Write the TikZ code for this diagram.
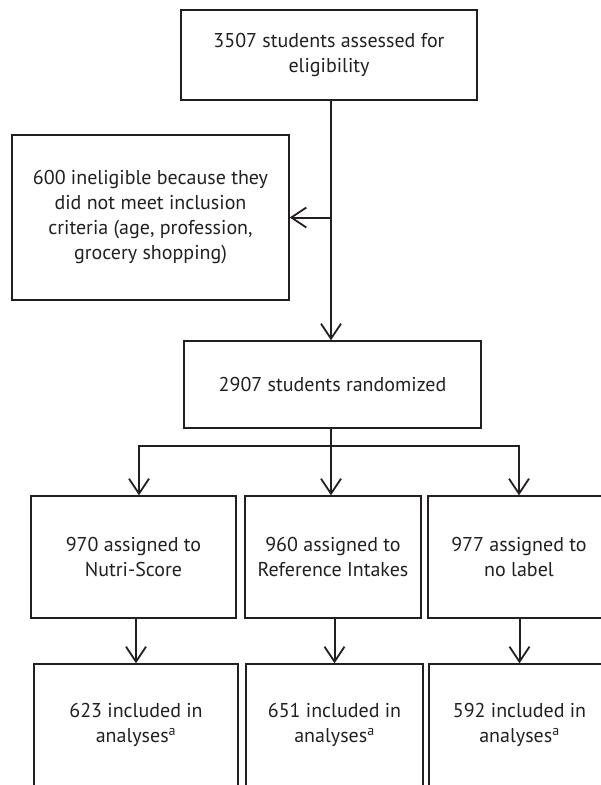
\documentclass[tikz,border=0pt]{standalone}
\usepackage{fontspec}
\setmainfont{PT Sans}
\usetikzlibrary{arrows.meta}
\definecolor{ink}{HTML}{231F20}
\tikzset{
  box/.style={draw=ink, line width=1.3pt, align=center, text=ink, inner sep=0pt,
    font=\fontsize{20}{25}\selectfont},
  arr/.style={draw=ink, line width=2pt, -{Straight Barb[length=15pt,width=20pt,line width=1.8pt]}},
  ln/.style={draw=ink, line width=2pt}
}
\begin{document}
\begin{tikzpicture}[x=1pt,y=-1pt]
\clip (0,0) rectangle (601,785);
\useasboundingbox (0,0) rectangle (601,785);
\node[box, minimum width=296pt, minimum height=90pt] (top) at (329,55) {3507 students assessed for\\eligibility};
\node[box, minimum width=277pt, minimum height=165pt] (left) at (150.5,217.5) {600 ineligible because they\\did not meet inclusion\\criteria (age, profession,\\grocery shopping)};
\node[box, minimum width=297pt, minimum height=87pt] (mid) at (332.5,384.5) {2907 students randomized};
\node[box, minimum width=205pt, minimum height=122pt] (A1) at (133.5,557) {970 assigned to\\Nutri-Score};
\node[box, minimum width=176pt, minimum height=122pt] (B1) at (333,557) {960 assigned to\\Reference Intakes};
\node[box, minimum width=182pt, minimum height=122pt] (C1) at (519,557) {977 assigned to\\no label};
\node[box, minimum width=204pt, minimum height=122pt] (A2) at (136,725) {623 included in\\analyses\textsuperscript{a}};
\node[box, minimum width=177pt, minimum height=122pt] (B2) at (334.5,725) {651 included in\\analyses\textsuperscript{a}};
\node[box, minimum width=181pt, minimum height=122pt] (C2) at (519.5,725) {592 included in\\analyses\textsuperscript{a}};
% trunk
\coordinate (t0) at (331,100);
\coordinate (j1) at (331,217.5);
\draw[arr] (t0) -- (t0 |- mid.north);
\draw[arr] (j1) -- (left.east);
% branch
\coordinate (bM) at (331,446);
\coordinate (bA) at (139,446);
\coordinate (bC) at (519,446);
\draw[ln] (bM |- mid.south) -- (bM);
\draw[ln, line cap=rect] (bA) -- (bC);
\draw[arr] (bA) -- (bA |- A1.north);
\draw[arr] (bM) -- (bM |- B1.north);
\draw[arr] (bC) -- (bC |- C1.north);
% second row
\draw[arr] (A2.north |- A1.south) -- (A2.north);
\draw[arr] (B2.north |- B1.south) -- (B2.north);
\draw[arr] (C2.north |- C1.south) -- (C2.north);
\end{tikzpicture}
\end{document}
